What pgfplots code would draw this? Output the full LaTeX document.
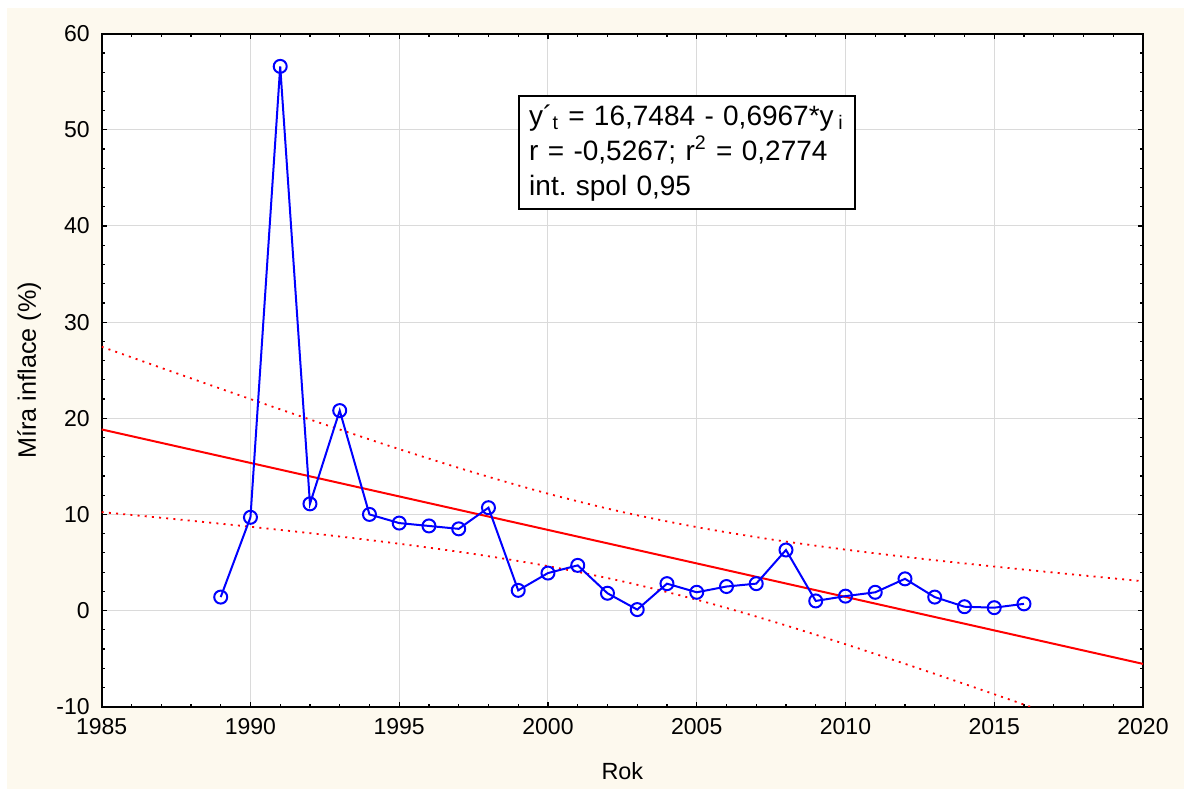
\documentclass[border=0pt]{standalone}
\usepackage{fontspec}
\setmainfont{Liberation Sans}
\usepackage{pgfplots}
\pgfplotsset{compat=1.18}
\definecolor{cream}{RGB}{253,249,238}
\definecolor{gridgray}{RGB}{218,218,218}
\frenchspacing
\begin{document}
\begin{tikzpicture}
\useasboundingbox (-50.85pt,-41.15pt) rectangle (541.15pt,353.35pt);
\fill[cream] (-47.35pt,-41.15pt) rectangle (541.15pt,349.35pt);
\begin{axis}[
  at={(0pt,0pt)}, anchor=south west,
  scale only axis, width=520.65pt, height=336.5pt,
  xmin=1985, xmax=2020, ymin=-10, ymax=60,
  xtick={1985,1990,...,2020}, ytick={-10,0,...,60},
  minor x tick num=4, minor y tick num=4,
  major tick length=2.5pt, minor tick length=1.5pt,
  every tick/.style={black, line width=0.6pt},
  grid=major, major grid style={gridgray, line width=0.5pt},
  axis line style={black, line width=1pt},
  axis background/.style={fill=white},
  /pgf/number format/assume math mode=true,
  /pgf/number format/1000 sep={},
  tick label style={font=\fontsize{11.5}{13}\selectfont},
  yticklabel style={xshift=-2.5pt},
  xticklabel style={yshift=-2.3pt},
  xlabel={Rok}, ylabel={Míra inflace (\%)},
  xlabel style={font=\fontsize{11.7}{13}\selectfont, at={(axis description cs:0.5,0)}, anchor=center, yshift=-32.15pt},
  ylabel style={font=\fontsize{12.6}{14}\selectfont, at={(axis description cs:0,0.5)}, anchor=center, yshift=36.3pt},
]
% confidence band (dotted)
\addplot[red, line width=0.9pt, dash pattern=on 1pt off 2.6pt, smooth] coordinates {
(1985,27.44) (1987.5,24.70) (1990,21.995) (1992.5,19.35) (1995,16.79) (1997.5,14.37)
(2000,12.16) (2002.5,10.25) (2005,8.68) (2007.5,7.40) (2010,6.34) (2012.5,5.41)
(2015,4.58) (2017.5,3.80) (2020,3.05)};
\addplot[red, line width=0.9pt, dash pattern=on 1pt off 2.6pt, smooth] coordinates {
(1985,10.24) (1987.5,9.50) (1990,8.715) (1992.5,7.88) (1995,6.95) (1997.5,5.89)
(2000,4.62) (2002.5,3.04) (2005,1.13) (2007.5,-1.08) (2010,-3.50) (2012.5,-6.06)
(2015,-8.70) (2017.5,-11.41) (2020,-14.15)};
% regression line
\addplot[red, line width=1pt] coordinates {(1985,18.8385) (2020,-5.546)};
% data
\addplot[blue, line width=1pt, mark=o, mark size=3.25pt, mark options={solid, line width=1pt}] coordinates {
(1989,1.4) (1990,9.7) (1991,56.6) (1992,11.1) (1993,20.8) (1994,10.0) (1995,9.1)
(1996,8.8) (1997,8.5) (1998,10.7) (1999,2.1) (2000,3.9) (2001,4.7) (2002,1.8)
(2003,0.1) (2004,2.8) (2005,1.9) (2006,2.5) (2007,2.8) (2008,6.3) (2009,1.0)
(2010,1.5) (2011,1.9) (2012,3.3) (2013,1.4) (2014,0.4) (2015,0.3) (2016,0.7)};
\node[draw=black, line width=1pt, fill=white, anchor=north west,
      minimum width=168pt, minimum height=56.5pt, align=left, inner xsep=5pt,
      font=\fontsize{14}{17.5}\selectfont, text width=158pt]
  at (axis cs:1999,53.6)
  {y´\textsubscript{t} = 16,7484 - 0,6967*y\,\textsubscript{i}\\
   r = -0,5267; r\textsuperscript{2} = 0,2774\\
   int. spol 0,95};
\end{axis}
\end{tikzpicture}
\end{document}
